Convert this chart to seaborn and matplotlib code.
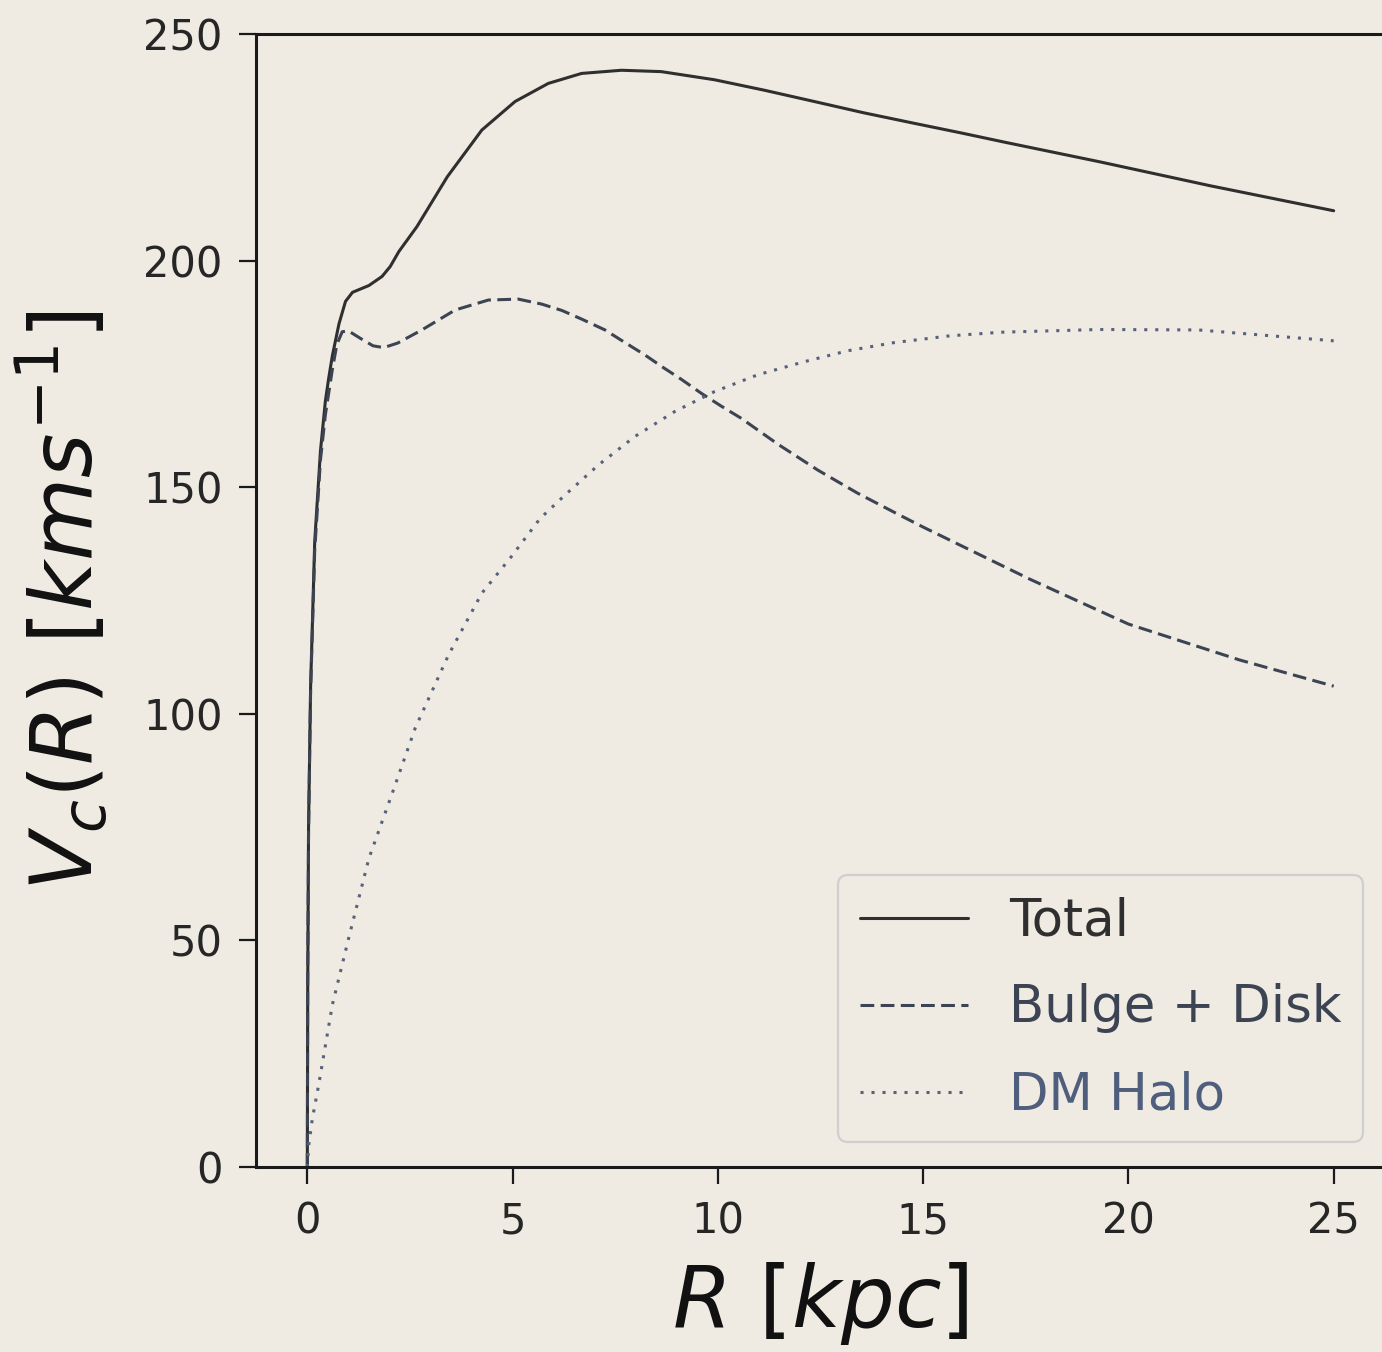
import numpy as np
import pandas as pd
import matplotlib
matplotlib.use("Agg")
import matplotlib.pyplot as plt
import seaborn as sns

# Galactic rotation curve components, R in kpc, V_c in km/s
r_total = [0, 0.01, 0.03, 0.08, 0.18, 0.32, 0.44, 0.52, 0.61, 0.77, 0.93, 1.1,
           1.5, 1.82, 2.02, 2.23, 2.67, 3.41, 4.25, 5.06, 5.87, 6.68, 7.65, 8.62,
           9.92, 11.13, 12.35, 13.56, 14.78, 15.91, 17.0, 19.3, 22.0, 25.0]
v_total = [0, 40, 75, 106, 138, 158, 169, 174, 179, 186, 191, 193,
           194.5, 196.5, 198.7, 202, 207.5, 218.5, 228.8, 235.1, 239.1, 241.3, 242.0, 241.7,
           239.9, 237.6, 235.1, 232.6, 230.3, 228.2, 226.1, 221.8, 216.5, 211.0]

r_baryon = [0, 0.01, 0.03, 0.08, 0.18, 0.32, 0.44, 0.61, 0.72, 0.85, 1.0, 1.3,
            1.6, 1.86, 2.2, 2.79, 3.6, 4.41, 5.14, 5.71, 6.2, 6.68, 7.25, 7.74,
            8.22, 8.67, 9.11, 9.6, 10.08, 10.57, 11.46, 12.43, 13.4, 14.33, 15.0,
            17.6, 20.0, 22.7, 25.0]
v_baryon = [0, 40, 74, 105, 136, 156, 166, 176, 181.5, 184.3, 184.5, 182.8,
            181.2, 180.8, 181.8, 184.7, 189.1, 191.3, 191.5, 190.4, 189.0, 187.1, 184.7, 181.9,
            179.2, 176.4, 173.8, 170.7, 167.9, 165.2, 159.5, 153.8, 148.7, 144.3, 141.2,
            129.7, 119.8, 111.9, 106.1]

r_halo = [0, 0.04, 0.12, 0.28, 0.61, 1.01, 1.5, 2.07, 2.63, 3.44, 4.25, 4.98,
          5.67, 6.28, 7.09, 7.98, 8.95, 9.92, 10.97, 12.11, 13.16, 14.29, 15.65,
          16.9, 19.3, 21.7, 25.0]
v_halo = [0, 5.2, 10.5, 18.3, 35.8, 50.6, 68.1, 82.5, 96.9, 113.0, 126.6, 134.8,
          143.1, 148.3, 154.9, 161.2, 166.7, 171.1, 174.8, 177.7, 180.1, 181.9, 183.4,
          184.2, 184.8, 184.7, 182.3]

labels = ["Total", "Bulge + Disk", "DM Halo"]
colors = ["#2f2f2f", "#3c4352", "#56627c"]
text_colors = ["#2f2f2f", "#3c4352", "#4f5e7d"]
styles = ["-", (0, (4.5, 2.1)), (0, (1.0, 2.6))]

x_ticks = [0, 5, 10, 15, 20, 25]
y_ticks = [0, 50, 100, 150, 200, 250]

bg = "#efebe2"
sns.set_style("ticks", {"axes.facecolor": bg, "figure.facecolor": bg,
                        "axes.edgecolor": "#1a1a1a"})
plt.rcParams["font.family"] = ["DejaVu Sans"]
plt.rcParams["mathtext.fontset"] = "dejavusans"

fig = plt.figure(figsize=(13.82, 13.52), dpi=100)
fig.patch.set_facecolor(bg)
ax = fig.add_axes([256 / 1382, 185 / 1352, 1129 / 1382, 1133 / 1352])
ax.set_facecolor(bg)

series = [(r_total, v_total), (r_baryon, v_baryon), (r_halo, v_halo)]
for (r, v), lab, col, ls in zip(series, labels, colors, styles):
    df = pd.DataFrame({"R": r, "V": v})
    sns.lineplot(data=df, x="R", y="V", ax=ax, color=col, linestyle=ls,
                 linewidth=2.2, label=lab, errorbar=None, sort=True)

ax.set_xlim(-1.25, 26.25)
ax.set_ylim(0, 250)
ax.set_xticks(x_ticks)
ax.set_yticks(y_ticks)
ax.tick_params(axis="both", labelsize=30, length=12, width=1.6, pad=12,
               colors="#1a1a1a", labelcolor="#262626")

for side in ["left", "bottom", "top", "right"]:
    ax.spines[side].set_visible(True)
    ax.spines[side].set_linewidth(2.2)
    ax.spines[side].set_color("#1a1a1a")

ax.set_xlabel(r"$R\ [kpc]$", fontsize=61, color="#111111")
ax.set_ylabel(r"$V_c(R)\ [kms^{-1}]$", fontsize=61.5, color="#111111")
ax.xaxis.set_label_coords(0.5, -0.082)
ax.yaxis.set_label_coords(-0.128, 0.5)

leg = ax.legend(loc="lower right", bbox_to_anchor=(0.9805, 0.022),
                borderaxespad=0, fontsize=37, frameon=True, fancybox=True,
                handlelength=2.1, handletextpad=0.8, labelspacing=0.72,
                borderpad=0.42)
frame = leg.get_frame()
frame.set_facecolor(bg)
frame.set_edgecolor("#cfcfcf")
frame.set_linewidth(1.6)
frame.set_alpha(1.0)
for txt, c in zip(leg.get_texts(), text_colors):
    txt.set_color(c)

fig.savefig("out.png", dpi=100, facecolor=bg)
